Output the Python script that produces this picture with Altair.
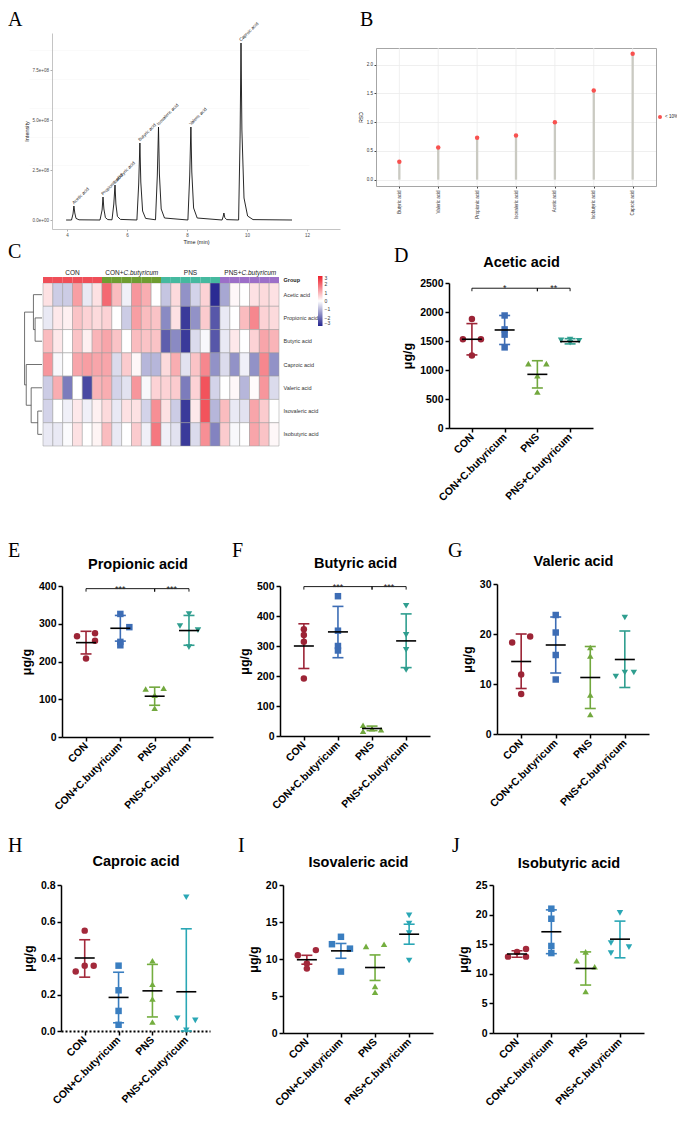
import altair as alt
import pandas as pd

W, H = 669, 1107
M = 8


def X(px):
    return px - M


def Y(py):
    return py - M


FONT = "Liberation Sans"
SERIF = "Liberation Serif"

# ---------------- shared categories ----------------
groups = ["CON", "CON+C.butyricum", "PNS", "PNS+C.butyricum"]
dot_shapes = ["circle", "square", "triangle-up", "triangle-down"]
dot_colors = ["#9C2436", "#3D6DB5", "#72A83E", "#2F9E8F"]
dot_colors_low = ["#A3293B", "#3A7EC0", "#74AE3F", "#2AA7B5"]
ann_colors = ["#EF4E58", "#6E9D31", "#45B99F", "#9C6FC8"]
heat_colors = ["#24248F", "#FFFFFF", "#EE1E2B"]

# ---------------- A: chromatogram ----------------
chrom_time = [3.97, 4.15, 4.20, 4.23, 4.26, 4.30, 4.40, 5.10, 5.17, 5.20,
              5.23, 5.28, 5.36, 5.50, 5.56, 5.60, 5.63, 5.68, 5.78, 6.33,
              6.39, 6.43, 6.46, 6.52, 6.62, 6.95, 7.01, 7.05, 7.08, 7.14,
              7.25, 8.03, 8.09, 8.13, 8.16, 8.22, 8.34, 9.17, 9.21, 9.23,
              9.26, 9.32, 9.72, 9.77, 9.80, 9.83, 9.90, 10.02, 10.20, 11.50]
chrom_intensity_e8 = [0, 0, 0.30, 0.70, 0.35, 0.08, 0.01, 0, 0.50, 1.15,
                      0.55, 0.12, 0.02, 0.01, 0.80, 1.75, 0.80, 0.18, 0.03, 0,
                      1.80, 3.85, 1.90, 0.45, 0.08, 0.01, 2.20, 4.65, 2.30, 0.55,
                      0.10, 0, 2.20, 4.65, 2.40, 0.60, 0.10, 0, 0.20, 0.35,
                      0.12, 0.02, 0, 4.20, 8.85, 4.50, 1.10, 0.20, 0.02, 0]
peak_names = ["Acetic acid", "Propionic acid", "Isobutyric acid", "Butyric acid",
              "Isovaleric acid", "Valeric acid", "Caproic acid"]
peak_time = [4.23, 5.20, 5.60, 6.43, 7.05, 8.13, 9.80]
peak_height_e8 = [0.70, 1.15, 1.75, 3.85, 4.65, 4.65, 8.85]
a_xticks = [4, 6, 8, 10, 12]
a_yticks = [0, 2.5e8, 5.0e8, 7.5e8]

# ---------------- B: RSD lollipop ----------------
rsd_acids = ["Butyric acid", "Valeric acid", "Propionic acid", "Isovaleric acid",
             "Acetic acid", "Isobutyric acid", "Caproic acid"]
rsd_values = [0.31, 0.56, 0.73, 0.77, 1.00, 1.55, 2.19]
rsd_major = [0, 0.5, 1.0, 1.5, 2.0]
rsd_minor = [0.25, 0.75, 1.25, 1.75, 2.25]
rsd_limits = [-0.11, 2.29]

# ---------------- C: heatmap ----------------
hm_rows = ["Acetic acid", "Propionic acid", "Butyric acid", "Caproic acid",
           "Valeric acid", "Isovaleric acid", "Isobutyric acid"]
hm_group_sizes = [6, 6, 6, 6]
hm_acetic = [0.4, -0.7, -0.7, 1.3, -0.3, 0.4, 2.0, 0.9, -0.2, 1.4, 1.1, 0.0,
             -0.8, 0.5, -1.5, -0.6, 0.6, -2.9, -1.2, 0.1, 0.0, 0.4, 0.5, 0.4]
hm_propionic = [-0.3, 0.3, 0.2, 0.8, 0.6, 0.5, 0.6, 0.0, -0.7, 1.3, 0.9, 0.8,
                -1.6, 0.4, -2.7, -1.5, 0.7, -2.3, -0.3, 0.0, 0.9, 1.6, 0.6, 0.5]
hm_butyric = [0.9, 0.3, 0.0, 0.8, 0.2, 1.0, 1.2, 0.8, 0.0, 0.9, 0.8, 0.8,
              -2.2, -1.6, -2.7, -0.5, -0.1, -2.3, -0.3, 0.3, 0.0, 0.6, 1.2, 1.0]
hm_caproic = [1.4, -0.1, 0.0, 1.2, 1.3, 1.2, 1.2, -0.5, 0.7, 0.1, -1.0, -1.0,
              0.5, 1.1, -0.4, 0.8, 1.6, -1.5, -0.5, -1.5, -0.2, -1.5, 1.6, -1.5]
hm_valeric = [-0.7, 1.1, -1.8, 0.0, -2.5, 1.0, 1.1, -0.6, -0.4, 1.4, -0.1, 0.6,
              0.6, 0.7, -1.8, 0.6, 2.3, -0.6, 0.0, 0.1, -1.0, 0.05, 1.4, -0.5]
hm_isovaleric = [-0.6, 0.0, -0.2, 0.3, -0.2, 0.2, 0.5, -0.3, 0.4, 0.4, -0.6, 1.5,
                 0.4, -0.7, -2.7, 0.3, 2.3, -1.0, 0.9, -0.3, -0.4, 1.2, 0.7, 0.0]
hm_isobutyric = [-0.3, -0.3, -0.05, 0.4, 0.0, 0.15, 0.9, -0.3, 0.0, 0.7, -0.2, 1.8,
                 -0.2, -0.4, -2.7, -0.5, 1.5, -1.7, 0.7, -0.1, 0.0, 1.2, 0.8, 0.1]
hm_values = [hm_acetic, hm_propionic, hm_butyric, hm_caproic,
             hm_valeric, hm_isovaleric, hm_isobutyric]
hm_legend_ticks = [3, 2, 1, 0, -1, -2, -3]
# dendrogram segments: merge height (from leaves) and row position (row units)
dend_h1 = [0, 0, 0, 0, 0, 0, 0, 7, 7, 8.7, 8.7, 4.3, 4.3, 11, 11, 16, 16, 17.7]
dend_h2 = [8.7, 7, 7, 16, 11, 4.3, 4.3, 7, 8.7, 8.7, 17.7, 4.3, 11, 11, 16, 16, 17.7, 17.7]
dend_r1 = [0.5, 1.5, 2.5, 3.5, 4.5, 5.5, 6.5, 1.5, 2.0, 0.5, 1.25, 5.5, 6.0, 4.5, 5.25, 3.5, 4.375, 1.25]
dend_r2 = [0.5, 1.5, 2.5, 3.5, 4.5, 5.5, 6.5, 2.5, 2.0, 2.0, 1.25, 6.5, 6.0, 6.0, 5.25, 5.25, 4.375, 4.375]

# ---------------- D-J: dot plots (4 animals per group) ----------------
acetic_vals = [1880, 1530, 1530, 1250, 1940, 1700, 1610, 1390, 1110, 1110, 900, 620, 1510, 1525, 1505, 1470]
acetic_spread = [0, -1, 1, 0, 0, 0, 0, 0, -1, 1, 0, 0, -1, 0, 1, 0]
acetic_mean = [1530, 1690, 925, 1490]
acetic_lo = [1260, 1440, 690, 1450]
acetic_hi = [1800, 1940, 1160, 1540]
acetic_yticks = [0, 500, 1000, 1500, 2000, 2500]
acetic_br_from = [0, 2]
acetic_br_to = [2, 3]
acetic_br_y = [2410, 2410]
acetic_br_label = ["*", "**"]

propionic_vals = [267, 275, 255, 208, 326, 291, 252, 243, 127, 129, 111, 76, 326, 294, 283, 238]
propionic_spread = [-1, 1, 1, 0, 0, 1, 0, 0, -1, 1, 0, 0, 0, -1, 1, 0]
propionic_mean = [250, 288, 108, 282]
propionic_lo = [220, 254, 84, 243]
propionic_hi = [280, 322, 132, 322]
propionic_yticks = [0, 100, 200, 300, 400]
propionic_br_from = [0, 2]
propionic_br_to = [2, 3]
propionic_br_y = [393, 393]
propionic_br_label = ["***", "***"]

butyric_vals = [356, 337, 314, 192, 466, 351, 300, 285, 36, 16, 24, 21, 434, 337, 287, 220]
butyric_spread = [0, 0, 0, 0, 0, 0, 0, 0, -1, -1, 0, 1, 0, 0, 0, 0]
butyric_mean = [300, 347, 25, 317]
butyric_lo = [225, 261, 18, 228]
butyric_hi = [374, 432, 33, 407]
butyric_yticks = [0, 100, 200, 300, 400, 500]
butyric_br_from = [0, 2]
butyric_br_to = [2, 3]
butyric_br_y = [498, 498]
butyric_br_label = ["***", "***"]

valeric_vals = [18.3, 19.5, 11.9, 8.0, 23.8, 20.3, 15.8, 10.9, 17.3, 15.6, 7.8, 3.9, 23.3, 11.5, 12.3, 12.3]
valeric_spread = [-1, 1, 0, 0, 0, 0, 0, 0, 0, 0, 0, 0, 0, -1, 0, 1]
valeric_mean = [14.5, 17.8, 11.3, 14.9]
valeric_lo = [9.1, 12.2, 5.1, 9.3]
valeric_hi = [20.0, 23.4, 17.5, 20.6]
valeric_yticks = [0, 10, 20, 30]

caproic_vals = [0.55, 0.326, 0.358, 0.358, 0.358, 0.223, 0.11, 0.034, 0.385, 0.256, 0.175, 0.049, 0.733, 0.07, 0.058, 0.004]
caproic_spread = [0, -1, 0, 1, 0, 0, 0, 0, 0, 0, 0, 0, 0, -1, 1, 0]
caproic_mean = [0.40, 0.184, 0.22, 0.215]
caproic_lo = [0.295, 0.045, 0.077, 0.0]
caproic_hi = [0.50, 0.322, 0.365, 0.56]
caproic_yticks = [0, 0.2, 0.4, 0.6, 0.8]

isovaleric_vals = [10.5, 11.2, 9.4, 8.7, 12.0, 13.0, 11.4, 8.3, 11.7, 12.0, 6.3, 5.5, 15.9, 14.8, 13.5, 9.8]
isovaleric_spread = [-1, 1, 0, 0, -1, 0, 1, 0, -1, 1, 0, 0, 0, 0, 0, 0]
isovaleric_mean = [9.9, 11.1, 8.85, 13.35]
isovaleric_lo = [9.3, 10.1, 7.1, 12.0]
isovaleric_hi = [10.5, 12.1, 10.55, 14.7]
isovaleric_yticks = [0, 5, 10, 15, 20]

isobutyric_vals = [12.9, 13.7, 14.2, 12.9, 21.0, 19.3, 14.7, 13.5, 12.2, 13.7, 11.2, 7.0, 20.3, 15.2, 14.5, 13.5]
isobutyric_spread = [-1, 0, 1, 1, 0, 0, 0, 0, -1, 0, 1, 0, 0, -1, 1, -1]
isobutyric_mean = [13.35, 17.1, 10.9, 15.85]
isobutyric_lo = [12.8, 13.4, 8.1, 12.7]
isobutyric_hi = [13.9, 20.8, 13.7, 18.9]
isobutyric_yticks = [0, 5, 10, 15, 20, 25]


# ---------------- helpers ----------------
def letter_mark(letter, lx, ly):
    return alt.Chart(pd.DataFrame({"t": [letter]})).mark_text(
        font=SERIF, fontSize=20, align="left", baseline="alphabetic", color="black"
    ).encode(text="t:N", x=alt.value(X(lx)), y=alt.value(Y(ly)))


def panel_a():
    df = pd.DataFrame({"t": chrom_time, "i": [v * 1e8 for v in chrom_intensity_e8]})
    pk = pd.DataFrame({"name": peak_names, "t": peak_time, "i": [v * 1e8 for v in peak_height_e8]})
    xs = alt.Scale(domain=[3.5, 13.1], range=[X(52), X(340)], nice=False, zero=False)
    ys = alt.Scale(domain=[-0.45e8, 9.35e8], range=[Y(229), Y(33)], nice=False, zero=False)
    small = dict(labelFontSize=4.5, labelColor="#4D4D4D", titleFontSize=5.5,
                 titleFontWeight="normal", titleColor="#222", domainColor="#B5B5B5",
                 domainWidth=0.8, tickColor="#777", tickSize=2, tickWidth=0.6,
                 labelPadding=1.5, grid=False, labelFlush=False)
    line = alt.Chart(df).mark_line(color="#111", strokeWidth=0.9).encode(
        x=alt.X("t:Q", scale=xs, axis=alt.Axis(orient="bottom", offset=Y(229) - H, values=a_xticks,
                                               format="d", title="Time (min)", titlePadding=2, **small)),
        y=alt.Y("i:Q", scale=ys, axis=alt.Axis(orient="left", offset=-X(52), values=a_yticks,
                                               labelExpr="replace(format(datum.value, '.1e'), 'e+', 'e+0')",
                                               title="Intensity", titlePadding=3, **small)),
    )
    labels = alt.Chart(pk).mark_text(angle=315, align="left", baseline="alphabetic", fontSize=4.5,
                                     dx=1, dy=-1, color="#222").encode(
        x=alt.X("t:Q", scale=xs, axis=None), y=alt.Y("i:Q", scale=ys, axis=None), text="name:N")
    return [line, labels, letter_mark("A", 8, 26)]


def panel_b():
    df = pd.DataFrame({"acid": rsd_acids, "rsd": rsd_values, "flag": ["< 10%"] * len(rsd_acids)})
    xs = alt.Scale(type="point", domain=rsd_acids, range=[X(376), X(656)], padding=0.6)
    ys = alt.Scale(domain=rsd_limits, range=[Y(186), Y(48)], nice=False, zero=False)
    frame = "#8F8F8F"
    vgrid = alt.Chart(df).mark_rule(color="#EBEBEB", strokeWidth=0.8).encode(
        x=alt.X("acid:N", scale=xs, axis=None),
        y=alt.Y(datum=rsd_limits[0], scale=ys, axis=None),
        y2=alt.datum(rsd_limits[1]),
    )
    seg = alt.Chart(df).mark_rule(color="#CACAC2", strokeWidth=2.3).encode(
        x=alt.X("acid:N", scale=xs, axis=alt.Axis(
            orient="bottom", offset=Y(186) - H, labelAngle=270, labelAlign="right",
            labelBaseline="middle", labelFontSize=4.5, labelColor="#333", labelPadding=2,
            tickSize=2, tickColor="#444", domainColor=frame, domainWidth=0.8, grid=False,
            title=None)),
        y=alt.Y("rsd:Q", scale=ys, axis=alt.Axis(
            orient="left", offset=-X(376), values=rsd_major, format=".1f", labelFontSize=4.5,
            labelColor="#333", labelPadding=1.5, tickSize=2, tickColor="#444", domainColor=frame,
            domainWidth=0.8, grid=True, gridColor="#EBEBEB", gridWidth=0.8, title="RSD",
            titleFontSize=5, titleFontWeight="normal", titlePadding=3)),
        y2=alt.datum(0),
    )
    dots = alt.Chart(df).mark_point(filled=True, size=20, opacity=1, strokeWidth=0).encode(
        x=alt.X("acid:N", scale=xs, axis=alt.Axis(
            orient="top", offset=-Y(48), labels=False, ticks=False, domainColor=frame,
            domainWidth=0.8, grid=False, title=None)),
        y=alt.Y("rsd:Q", scale=ys, axis=alt.Axis(
            orient="right", offset=X(656) - W, values=rsd_minor, labels=False, ticks=False,
            domainColor=frame, domainWidth=0.8, grid=True, gridColor="#F4F4F4", gridWidth=0.5,
            title=None)),
        color=alt.Color("flag:N", scale=alt.Scale(domain=["< 10%"], range=["#F8514F"]),
                        legend=alt.Legend(orient="none", legendX=X(657), legendY=Y(114), title=None,
                                          labelFontSize=4.5, labelColor="#222", symbolSize=16,
                                          symbolType="circle", padding=0, labelOffset=2)),
    )
    return [vgrid, seg, dots, letter_mark("B", 360, 26)]


def panel_c():
    cells = []
    for r, name in enumerate(hm_rows):
        for c, z in enumerate(hm_values[r]):
            cells.append({"acid": name, "c0": c, "c1": c + 1, "z": z})
    dfc = pd.DataFrame(cells)
    col_group = []
    for g, n in zip(groups, hm_group_sizes):
        col_group += [g] * n
    dfa = pd.DataFrame({"c0": list(range(len(col_group))), "c1": [c + 1 for c in range(len(col_group))],
                        "group": col_group, "ann": ["Group"] * len(col_group)})
    centers = []
    start = 0
    for n in hm_group_sizes:
        centers.append(start + n / 2)
        start += n
    plain = pd.DataFrame([{"txt": g, "cx": cx, "ann": "Group"} for g, cx in zip(groups, centers) if "+" not in g])
    pref = pd.DataFrame([{"txt": g.split("+")[0] + "+", "cx": cx, "ann": "Group"}
                         for g, cx in zip(groups, centers) if "+" in g])
    suff = pd.DataFrame([{"txt": g.split("+")[1], "cx": cx, "ann": "Group"}
                         for g, cx in zip(groups, centers) if "+" in g])

    xs = alt.Scale(domain=[0, len(col_group)], range=[X(43), X(279)], nice=False, zero=False)
    ys = alt.Scale(domain=hm_rows, range=[Y(283), Y(446)], paddingInner=0, paddingOuter=0)
    ya = alt.Scale(domain=["Group"], range=[Y(277), Y(283)], paddingInner=0, paddingOuter=0)

    heat = alt.Chart(dfc).mark_rect(stroke="#9A9A9A", strokeWidth=0.5).encode(
        x=alt.X("c0:Q", scale=xs, axis=None), x2="c1:Q",
        y=alt.Y("acid:N", scale=ys, axis=alt.Axis(
            orient="right", offset=X(279) - W, ticks=False, domain=False, labelFontSize=5.5,
            labelPadding=4, labelColor="#333", title=None, grid=False)),
        color=alt.Color("z:Q", scale=alt.Scale(domain=[-3, 0, 3], range=heat_colors, interpolate="rgb"),
                        legend=alt.Legend(orient="none", legendX=X(318), legendY=Y(276), title=None,
                                          direction="vertical", gradientLength=50, gradientThickness=4.5,
                                          values=hm_legend_ticks, labelFontSize=5, labelColor="#333",
                                          labelOverlap=False, gradientStrokeWidth=0, padding=0,
                                          labelOffset=2)),
    )
    ann = alt.Chart(dfa).mark_rect().encode(
        x=alt.X("c0:Q", scale=xs, axis=None), x2="c1:Q",
        y=alt.Y("ann:N", scale=ya, axis=alt.Axis(
            orient="right", offset=X(279) - W, ticks=False, domain=False, labelFontSize=5.5,
            labelFontWeight="bold", labelPadding=4, labelColor="#222", title=None, grid=False)),
        color=alt.Color("group:N", scale=alt.Scale(domain=groups, range=ann_colors), legend=None),
    )
    base_txt = dict(fontSize=6.5, baseline="alphabetic", dy=-5, color="#222")
    t_plain = alt.Chart(plain).mark_text(align="center", **base_txt).encode(
        x=alt.X("cx:Q", scale=xs, axis=None), y=alt.Y("ann:N", scale=ya, axis=None), text="txt:N")
    t_pref = alt.Chart(pref).mark_text(align="right", dx=-8, **base_txt).encode(
        x=alt.X("cx:Q", scale=xs, axis=None), y=alt.Y("ann:N", scale=ya, axis=None), text="txt:N")
    t_suff = alt.Chart(suff).mark_text(align="left", dx=-8, fontStyle="italic", **base_txt).encode(
        x=alt.X("cx:Q", scale=xs, axis=None), y=alt.Y("ann:N", scale=ya, axis=None), text="txt:N")

    dfd = pd.DataFrame({"h1": dend_h1, "h2": dend_h2, "r1": dend_r1, "r2": dend_r2})
    xd = alt.Scale(domain=[0, 20], range=[X(42), X(22.3)], nice=False, zero=False)
    yd = alt.Scale(domain=[0, len(hm_rows)], range=[Y(283), Y(446)], nice=False, zero=False)
    dend = alt.Chart(dfd).mark_rule(color="#4D4D4D", strokeWidth=0.8).encode(
        x=alt.X("h1:Q", scale=xd, axis=None), x2="h2:Q",
        y=alt.Y("r1:Q", scale=yd, axis=None), y2="r2:Q")
    return [heat, ann, t_plain, t_pref, t_suff, dend, letter_mark("C", 8, 258)]


def dot_panel(letter, title, vals, spread, mean, lo, hi, yticks, fmt, geo, colors,
              br=None, dotted=False):
    x0, x1, ytop, ybot, tbase, lx, ly = geo
    ymax = yticks[-1]
    pts_df = pd.DataFrame({"group": [g for g in groups for _ in range(4)], "value": vals, "spread": spread})
    st_df = pd.DataFrame({"group": groups, "mean": mean, "lo": lo, "hi": hi})
    xs = alt.Scale(type="point", domain=groups, range=[X(x0), X(x1)], padding=0.7)
    ys = alt.Scale(domain=[0, ymax], range=[Y(ybot), Y(ytop)], nice=False, zero=False)
    col = alt.Color("group:N", scale=alt.Scale(domain=groups, range=colors), legend=None)
    shp = alt.Shape("group:N", scale=alt.Scale(domain=groups, range=dot_shapes), legend=None)
    xaxis_kw = dict(orient="bottom", offset=Y(ybot) - H, title=None, labelAngle=315, labelAlign="right",
                    labelBaseline="middle", labelFont=FONT, labelFontWeight="bold", labelFontSize=10.5,
                    labelColor="black", labelPadding=3, tickSize=4, tickWidth=1.5, tickColor="black",
                    domainColor="black", domainWidth=1.5, grid=False)
    if dotted:
        xaxis_kw.update(domainDash=[2, 2], domainWidth=2.2)
    yaxis = alt.Axis(orient="left", offset=-X(x0), values=yticks, format=fmt, title="μg/g",
                     titleFont=FONT, titleFontWeight="bold", titleFontSize=12.5, titleColor="black",
                     titlePadding=5, labelFont=FONT, labelFontWeight="bold", labelFontSize=10.5,
                     labelColor="black", labelPadding=2, tickSize=4, tickWidth=1.5, tickColor="black",
                     domainColor="black", domainWidth=1.5, grid=False)
    pts = alt.Chart(pts_df).mark_point(filled=True, size=42, opacity=1, strokeWidth=0).encode(
        x=alt.X("group:N", scale=xs, axis=alt.Axis(**xaxis_kw)),
        xOffset=alt.XOffset("spread:Q", scale=alt.Scale(domain=[-1, 1], range=[-9, 9])),
        y=alt.Y("value:Q", scale=ys, axis=yaxis),
        color=col, shape=shp)
    err = alt.Chart(st_df).mark_rule(strokeWidth=1.6).encode(
        x=alt.X("group:N", scale=xs, axis=None),
        y=alt.Y("lo:Q", scale=ys, axis=None), y2="hi:Q", color=col)
    caps = alt.Chart(st_df).transform_fold(["lo", "hi"], as_=["which", "v"]).mark_tick(
        thickness=1.6, size=11, opacity=1).encode(
        x=alt.X("group:N", scale=xs, axis=None),
        y=alt.Y("v:Q", scale=ys, axis=None), color=col)
    meanl = alt.Chart(st_df).mark_tick(color="black", thickness=1.6, size=20, opacity=1).encode(
        x=alt.X("group:N", scale=xs, axis=alt.Axis(
            orient="top", offset=-Y(ytop), title=title, titleFont=FONT, titleFontWeight="bold",
            titleFontSize=14.5, titleColor="black", titlePadding=ytop - tbase,
            titleBaseline="alphabetic", labels=False, ticks=False, domain=False, grid=False)),
        y=alt.Y("mean:Q", scale=ys, axis=None))
    layers = [pts, err, caps, meanl, letter_mark(letter, lx, ly)]
    if br is not None:
        b_from, b_to, b_y, b_lab = br
        bdf = pd.DataFrame({"i1": b_from, "i2": b_to, "yv": b_y, "lab": b_lab})
        xl = alt.Scale(domain=[-0.7, len(groups) - 1 + 0.7], range=[X(x0), X(x1)], nice=False, zero=False)
        drop = 3.0 * ymax / (ybot - ytop)
        hline = alt.Chart(bdf).mark_rule(color="black", strokeWidth=0.9).encode(
            x=alt.X("i1:Q", scale=xl, axis=None), x2="i2:Q",
            y=alt.Y("yv:Q", scale=ys, axis=None))
        drops = alt.Chart(bdf).transform_fold(["i1", "i2"], as_=["end", "ix"]).transform_calculate(
            yd=f"datum.yv - {drop}").mark_rule(color="black", strokeWidth=0.9).encode(
            x=alt.X("ix:Q", scale=xl, axis=None),
            y=alt.Y("yv:Q", scale=ys, axis=None), y2="yd:Q")
        stars = alt.Chart(bdf).transform_calculate(mid="(datum.i1 + datum.i2) / 2").mark_text(
            fontSize=9, baseline="alphabetic", dy=3, color="#222").encode(
            x=alt.X("mid:Q", scale=xl, axis=None),
            y=alt.Y("yv:Q", scale=ys, axis=None), text="lab:N")
        layers += [hline, drops, stars]
    return layers


layers = []
layers += panel_a()
layers += panel_b()
layers += panel_c()
layers += dot_panel("D", "Acetic acid", acetic_vals, acetic_spread, acetic_mean, acetic_lo, acetic_hi,
                    acetic_yticks, "d", (449, 593, 283, 428, 266, 394, 262), dot_colors,
                    br=(acetic_br_from, acetic_br_to, acetic_br_y, acetic_br_label))
layers += dot_panel("E", "Propionic acid", propionic_vals, propionic_spread, propionic_mean, propionic_lo,
                    propionic_hi, propionic_yticks, "d", (62, 213, 586, 737, 568, 8, 557), dot_colors,
                    br=(propionic_br_from, propionic_br_to, propionic_br_y, propionic_br_label))
layers += dot_panel("F", "Butyric acid", butyric_vals, butyric_spread, butyric_mean, butyric_lo, butyric_hi,
                    butyric_yticks, "d", (280, 430, 586, 736, 567, 232, 557), dot_colors,
                    br=(butyric_br_from, butyric_br_to, butyric_br_y, butyric_br_label))
layers += dot_panel("G", "Valeric acid", valeric_vals, valeric_spread, valeric_mean, valeric_lo, valeric_hi,
                    valeric_yticks, "d", (497, 649, 584, 734, 565, 448, 557), dot_colors)
layers += dot_panel("H", "Caproic acid", caproic_vals, caproic_spread, caproic_mean, caproic_lo, caproic_hi,
                    caproic_yticks, ".1f", (61, 210, 885, 1031, 865, 8, 852), dot_colors_low, dotted=True)
layers += dot_panel("I", "Isovaleric acid", isovaleric_vals, isovaleric_spread, isovaleric_mean,
                    isovaleric_lo, isovaleric_hi, isovaleric_yticks, "d",
                    (283, 433, 885, 1033, 866, 238, 852), dot_colors_low)
layers += dot_panel("J", "Isobutyric acid", isobutyric_vals, isobutyric_spread, isobutyric_mean,
                    isobutyric_lo, isobutyric_hi, isobutyric_yticks, "d",
                    (493, 644, 885, 1033, 867, 452, 852), dot_colors_low)

chart = alt.layer(*layers).properties(
    width=W, height=H, padding=0, autosize=alt.AutoSizeParams(type="none")
).resolve_scale(
    x="independent", y="independent", color="independent", shape="independent", xOffset="independent"
).configure(font=FONT, view=alt.ViewConfig(stroke=None), background="white")

chart.save("out.html", embed_options={"renderer": "svg", "actions": False})
